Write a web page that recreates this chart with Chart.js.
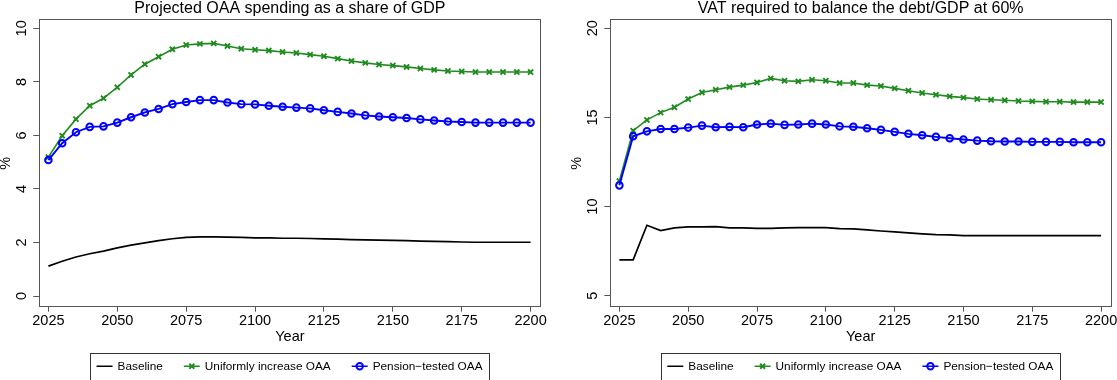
<!DOCTYPE html>
<html><head><meta charset="utf-8">
<script src="https://cdn.jsdelivr.net/npm/chart.js@4/dist/chart.umd.min.js"></script>
<style>
html,body{margin:0;padding:0;background:#fff;width:1117px;height:380px;overflow:hidden}
canvas{position:absolute;top:0}
#c1{left:0}
#c2{left:571px}
</style></head><body>
<canvas id="c1" width="560" height="380"></canvas>
<canvas id="c2" width="546" height="380"></canvas>
<script>
// ---------- data ----------
const years = [2025,2030,2035,2040,2045,2050,2055,2060,2065,2070,2075,2080,2085,2090,2095,2100,2105,2110,2115,2120,2125,2130,2135,2140,2145,2150,2155,2160,2165,2170,2175,2180,2185,2190,2195,2200];
const xTickLabels = [2025,2050,2075,2100,2125,2150,2175,2200];
const seriesNames = ["Baseline","Uniformly increase OAA","Pension\u2212tested OAA"];

const titleLeft = "Projected OAA spending as a share of GDP";
const oaaBaseline = [1.12,1.30,1.46,1.58,1.68,1.80,1.90,1.99,2.07,2.14,2.19,2.21,2.21,2.20,2.19,2.17,2.17,2.16,2.16,2.15,2.14,2.13,2.11,2.10,2.09,2.08,2.07,2.05,2.04,2.03,2.02,2.01,2.01,2.01,2.01,2.01];
const oaaUniform  = [5.19,5.99,6.61,7.11,7.39,7.80,8.26,8.66,8.94,9.22,9.38,9.42,9.44,9.34,9.24,9.20,9.17,9.12,9.08,9.02,8.96,8.87,8.78,8.71,8.65,8.61,8.56,8.50,8.45,8.41,8.39,8.37,8.37,8.37,8.37,8.37];
const oaaPension  = [5.08,5.71,6.12,6.32,6.34,6.48,6.68,6.86,6.99,7.17,7.25,7.32,7.32,7.23,7.17,7.16,7.11,7.07,7.04,7.01,6.94,6.88,6.82,6.75,6.71,6.68,6.65,6.60,6.56,6.52,6.50,6.48,6.48,6.48,6.48,6.48];
const oaaYTicks = [0,2,4,6,8,10];

const titleRight = "VAT required to balance the debt/GDP at 60%";
const vatBaseline = [7.01,7.01,8.95,8.65,8.80,8.86,8.86,8.88,8.80,8.80,8.78,8.78,8.80,8.82,8.82,8.82,8.76,8.75,8.69,8.63,8.58,8.52,8.47,8.43,8.41,8.37,8.37,8.37,8.37,8.37,8.37,8.37,8.37,8.37,8.37,8.37];
const vatUniform  = [11.43,14.26,14.86,15.27,15.57,16.03,16.40,16.55,16.70,16.81,16.96,17.19,17.06,17.02,17.11,17.06,16.93,16.93,16.81,16.76,16.63,16.50,16.37,16.27,16.18,16.11,16.03,15.99,15.96,15.92,15.90,15.88,15.88,15.86,15.86,15.86];
const vatPension  = [11.19,13.94,14.22,14.35,14.35,14.43,14.54,14.45,14.47,14.45,14.60,14.65,14.58,14.60,14.65,14.60,14.50,14.48,14.39,14.30,14.19,14.08,14.00,13.91,13.83,13.76,13.70,13.66,13.65,13.65,13.63,13.63,13.63,13.61,13.61,13.61];
const vatYTicks = [5,10,15,20];

const xLabel = "Year";
const yLabel = "%";

// ---------- style ----------
const FONT = '"Liberation Sans", Arial, Helvetica, sans-serif';
const AXIS = '#555555';
const GREEN = '#1f8b1f';
const BLUE = '#0000ff';

function pts(vals){ return years.map((y,i)=>({x:y, y:vals[i]})); }

function drawLegend(ctx, cx, top, bottom){
  ctx.save();
  ctx.font = `11.8px ${FONT}`;
  const lineLen = 16, gapLT = 5, gapItems = 21, padL = 6.3, padR = 7;
  const widths = seriesNames.map(t => ctx.measureText(t).width);
  let total = padL + padR + gapItems * (seriesNames.length - 1);
  widths.forEach(w => total += lineLen + gapLT + w);
  const left = cx - total / 2;
  ctx.strokeStyle = '#333';
  ctx.lineWidth = 1;
  ctx.strokeRect(Math.round(left) + 0.5, Math.round(top) + 0.5, Math.round(total), Math.round(bottom - top));
  const cy = (top + bottom) / 2 + 0.5;
  let x = left + padL;
  const colors = ['#000', GREEN, BLUE];
  seriesNames.forEach((t, i) => {
    ctx.strokeStyle = colors[i];
    ctx.lineWidth = 1.5;
    ctx.beginPath(); ctx.moveTo(x, cy); ctx.lineTo(x + lineLen, cy); ctx.stroke();
    const mx = x + lineLen / 2;
    if (i === 1) {
      ctx.lineWidth = 1.8;
      const r = 2.5;
      ctx.beginPath();
      ctx.moveTo(mx - r, cy - r); ctx.lineTo(mx + r, cy + r);
      ctx.moveTo(mx - r, cy + r); ctx.lineTo(mx + r, cy - r);
      ctx.stroke();
    } else if (i === 2) {
      ctx.lineWidth = 2;
      ctx.beginPath(); ctx.arc(mx, cy, 3.2, 0, Math.PI * 2); ctx.stroke();
    }
    ctx.fillStyle = '#000';
    ctx.textAlign = 'left';
    ctx.textBaseline = 'middle';
    ctx.fillText(t, x + lineLen + gapLT, cy);
    x += lineLen + gapLT + widths[i] + gapItems;
  });
  ctx.restore();
}

function framePlugin(title, yTicks){
  return {
    id: 'frame',
    afterDraw(chart){
      const ctx = chart.ctx;
      const a = chart.chartArea;
      const ys = chart.scales.y;
      const cx = (a.left + a.right) / 2;
      ctx.save();
      // box
      ctx.strokeStyle = AXIS;
      ctx.lineWidth = 1;
      ctx.strokeRect(Math.round(a.left) + 0.5, Math.round(a.top) + 0.5, Math.round(a.right - a.left), Math.round(a.bottom - a.top));
      // y tick labels rotated
      ctx.fillStyle = '#000';
      ctx.font = `14.5px ${FONT}`;
      ctx.textAlign = 'center';
      ctx.textBaseline = 'middle';
      yTicks.forEach(v => {
        const y = ys.getPixelForValue(v);
        ctx.save(); ctx.translate(a.left - 17, y); ctx.rotate(-Math.PI / 2);
        ctx.fillText(String(v), 0, 0); ctx.restore();
      });
      // y title
      ctx.save(); ctx.translate(5.5, (a.top + a.bottom) / 2 + 1); ctx.rotate(-Math.PI / 2);
      ctx.fillText(yLabel, 0, 0); ctx.restore();
      // x title
      ctx.fillText(xLabel, cx, 337);
      // title
      ctx.font = `16px ${FONT}`;
      ctx.textBaseline = 'alphabetic';
      ctx.fillText(title, cx, 12.5);
      ctx.restore();
      drawLegend(ctx, cx, 352.5, 379);
    }
  };
}

function makeChart(id, title, base, uni, pen, yMin, yMax, yTicks){
  const canvas = document.getElementById(id);
  const W = canvas.width;
  const gridCfg = {display:true, drawOnChartArea:false, drawTicks:true, tickLength:6, color:AXIS, lineWidth:1};
  return new Chart(canvas, {
    type: 'line',
    data: { datasets: [
      {label: seriesNames[0], data: pts(base), borderColor:'#000', borderWidth:1.7, pointRadius:0, order:3, tension:0},
      {label: seriesNames[1], data: pts(uni), borderColor:GREEN, borderWidth:1.6, pointStyle:'crossRot', pointRadius:3.6, pointBorderWidth:1.9, pointBorderColor:GREEN, pointBackgroundColor:GREEN, order:2},
      {label: seriesNames[2], data: pts(pen), borderColor:BLUE, borderWidth:1.9, pointStyle:'circle', pointRadius:3.3, pointBorderWidth:2, pointBorderColor:BLUE, pointBackgroundColor:'rgba(0,0,0,0)', order:1}
    ]},
    options: {
      responsive:false, animation:false, events:[],
      layout: {padding:{top:19, right: W - 540.5, left:0, bottom:0}},
      plugins: {legend:{display:false}, title:{display:false}, tooltip:{enabled:false}},
      scales: {
        x: {
          type:'linear', min:2021.7, max:2203.6,
          afterBuildTicks: s => { s.ticks = xTickLabels.map(v => ({value:v})); },
          afterFit: s => { s.height = 74.3; s.paddingLeft = 0; s.paddingRight = 0; },
          grid: gridCfg, border:{display:false},
          ticks: {font:{family:FONT, size:14.5}, color:'#000', padding:0.5, maxRotation:0, minRotation:0, autoSkip:false, callback: v => String(v)}
        },
        y: {
          type:'linear', min:yMin, max:yMax,
          afterBuildTicks: s => { s.ticks = yTicks.map(v => ({value:v})); },
          afterFit: s => { s.width = 39.3; s.paddingTop = 0; s.paddingBottom = 0; },
          grid: gridCfg, border:{display:false},
          ticks: {display:false}
        }
      }
    },
    plugins: [framePlugin(title, yTicks)]
  });
}

makeChart('c1', titleLeft, oaaBaseline, oaaUniform, oaaPension, -0.36, 10.35, oaaYTicks);
makeChart('c2', titleRight, vatBaseline, vatUniform, vatPension, 4.44, 20.52, vatYTicks);
</script>
</body></html>
